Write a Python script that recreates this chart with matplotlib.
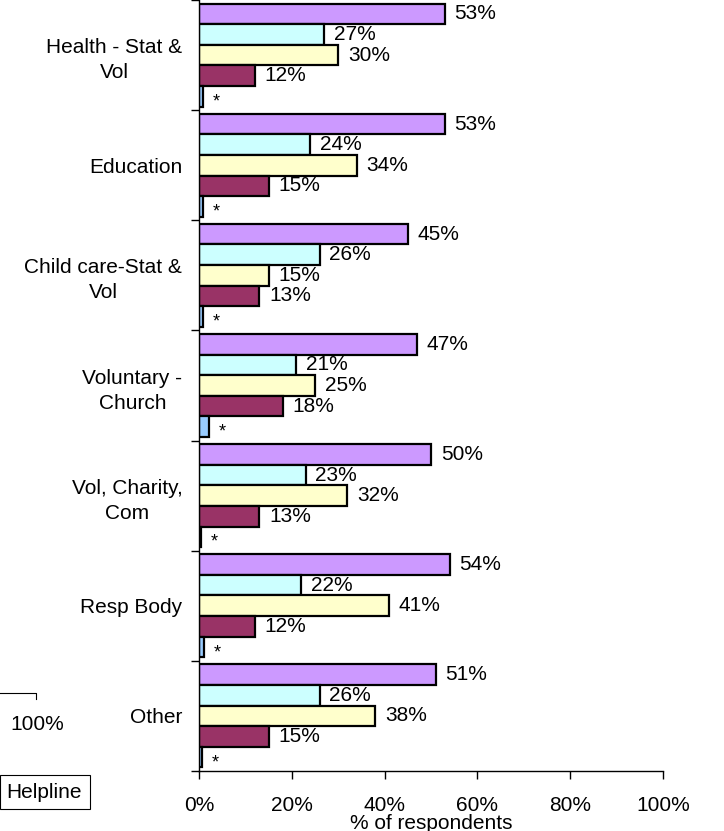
import matplotlib.pyplot as plt
from matplotlib.lines import Line2D
from matplotlib.patches import Rectangle
from matplotlib.ticker import FixedLocator

plt.rcParams["font.family"] = ["Liberation Sans", "DejaVu Sans"]

# Sektorer (uppifrån och ned) och andel svarande per serie
CATEGORIES = [
    "Health - Stat &\nVol",
    "Education",
    "Child care-Stat &\nVol",
    "Voluntary -\nChurch",
    "Vol, Charity,\nCom",
    "Resp Body",
    "Other",
]
SERIES_1 = [53, 53, 45, 47, 50, 54, 51]
SERIES_2 = [27, 24, 26, 21, 23, 22, 26]
SERIES_3 = [30, 34, 15, 25, 32, 41, 38]
SERIES_4 = [12, 15, 13, 18, 13, 12, 15]
SERIES_5 = [0.8, 0.8, 0.8, 2.2, 0.5, 1.0, 0.6]  # under 1 % -> "*"
SERIES_5_LABELS = ["*"] * 7

COLORS = ["#CC99FF", "#CCFFFF", "#FFFFCC", "#993366", "#99CCFF"]
X_TICKS = [0, 20, 40, 60, 80, 100]

series = [SERIES_1, SERIES_2, SERIES_3, SERIES_4, SERIES_5]

fig = plt.figure(figsize=(7.24, 8.31), dpi=100)
ax = fig.add_axes([199 / 724, 60 / 831, 464 / 724, 771 / 831])

bar_h = 0.187
n = len(CATEGORIES)
for k, (vals, color) in enumerate(zip(series, COLORS)):
    ys = [i + (k - 2) * bar_h for i in range(n)]
    ax.barh(ys, vals, height=bar_h, color=color, edgecolor="black", linewidth=1.6)
    for j, (y, v) in enumerate(zip(ys, vals)):
        if k == 4:
            ax.annotate(SERIES_5_LABELS[j], (v, y), xytext=(7, -4),
                        textcoords="offset points", va="center", ha="left", fontsize=13)
        else:
            ax.annotate(f"{v}%", (v, y), xytext=(7, 0), textcoords="offset points",
                        va="center", ha="left", fontsize=15)

ax.set_xlim(0, 100)
ax.set_ylim(n - 0.5, -0.5)
ax.set_xticks(X_TICKS)
ax.set_xticklabels([f"{t}%" for t in X_TICKS], fontsize=15)
ax.set_xlabel("% of respondents", fontsize=15, labelpad=-1)

ax.set_yticks(range(n))
ax.set_yticklabels(CATEGORIES, fontsize=15)
for lab in ax.get_yticklabels():
    lab.set_multialignment("center")
    lab.set_linespacing(1.4)
ax.yaxis.set_minor_locator(FixedLocator([i - 0.5 for i in range(n + 1)]))
ax.tick_params(axis="y", which="major", length=0, pad=12)
ax.tick_params(axis="y", which="minor", length=6, width=1, direction="out")
ax.tick_params(axis="x", length=6, width=1, direction="out", pad=12)

for side in ["top", "right"]:
    ax.spines[side].set_visible(False)
ax.spines["left"].set_linewidth(1)
ax.spines["bottom"].set_linewidth(1)

# rester av förklaringsrutan i vänsterkanten
px = lambda x, y: (x / 724, 1 - y / 831)
fig.add_artist(Line2D([px(0, 693)[0], px(36, 693)[0], px(36, 699)[0]],
                      [px(0, 693)[1], px(36, 693)[1], px(36, 699)[1]],
                      color="black", linewidth=0.8))
fig.text(*px(37, 724), "100%", ha="center", va="center", fontsize=15)
x0, y0 = px(0, 809)
fig.add_artist(Rectangle((x0, y0), 90 / 724, 34 / 831, transform=fig.transFigure,
                         facecolor="white", edgecolor="black", linewidth=0.8))
fig.text(*px(44, 793), "Helpline", ha="center", va="center", fontsize=15)

fig.savefig("out.png", dpi=100)
